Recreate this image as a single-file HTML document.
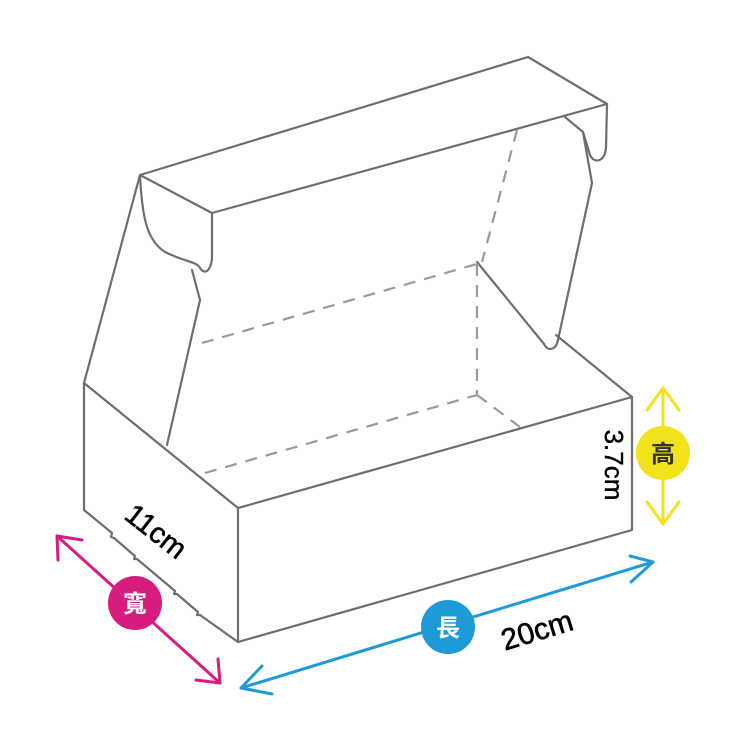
<!DOCTYPE html>
<html><head><meta charset="utf-8"><style>
html,body{margin:0;padding:0;background:#fff;}
svg{display:block;}
</style></head><body>
<svg width="744" height="744" viewBox="0 0 744 744" xmlns="http://www.w3.org/2000/svg">
<g fill="none" stroke="#6e6e6e" stroke-width="2.2" stroke-linejoin="round" stroke-linecap="round">
  <path d="M140,175 L528,57 L607,104 L212,213 Z"/>
  <path d="M140,175 C142,215 146,240 165,252 C185,262 198,262 200,268 C205,276 212,270 212,255 L212,213"/>
  <path d="M140,175 L84,383"/>
  <path d="M192,270 L200,300 L167,445"/>
  <path d="M607,104 L606,148 C605,162 594,164 590,155 L583,132 L565,117"/>
  <path d="M583,132 L592,183 L558,340 C556,350 548,352 544,344 L477,262"/>
  <path d="M556,335 L632,397"/>
  <path d="M238,642 L238,508 L84,383 L84,510"/>
  <path d="M238,508 L632,397 L632,530 L238,642"/>
  <path d="M84,510 L112,533 L111,537 L114,538 L135,556 L134,559 L137,559 L175,591 L174,594 L177,594 L198,612 L197,615 L200,615 L238,642"/>
</g>
<g fill="none" stroke="#9a9a9a" stroke-width="2.2" stroke-dasharray="12,9">
  <path d="M202,343 L477,264"/>
  <path d="M477,264 L477,395"/>
  <path d="M205,473 L477,395"/>
  <path d="M477,395 L520,427"/>
  <path d="M517,130 L482,262"/>
</g>
<g stroke="#d81b7f" stroke-width="3" fill="none" stroke-linecap="round" stroke-linejoin="round">
  <path d="M57,536 L220,683"/>
  <path d="M58,560 L57,536 L82,540"/>
  <path d="M196,680 L220,683 L218,659"/>
</g>
<circle cx="135" cy="603" r="27" fill="#d81b7f"/>
<text x="135" y="612" font-family="'Liberation Sans','Noto Sans CJK TC',sans-serif" font-size="24" font-weight="bold" fill="#fff" text-anchor="middle">寬</text>
<g stroke="#1e9ad6" stroke-width="3" fill="none" stroke-linecap="round" stroke-linejoin="round">
  <path d="M241,688 L653,562"/>
  <path d="M262,666 L241,688 L272,694"/>
  <path d="M630,556 L653,562 L631,582"/>
</g>
<circle cx="448" cy="627" r="27" fill="#1e9ad6"/>
<text x="448" y="636" font-family="'Liberation Sans','Noto Sans CJK TC',sans-serif" font-size="24" font-weight="bold" fill="#fff" text-anchor="middle">長</text>
<g stroke="#f2e21a" stroke-width="3" fill="none" stroke-linecap="round" stroke-linejoin="round">
  <path d="M663,388 L663,524"/>
  <path d="M647,410 L663,388 L679,410"/>
  <path d="M647,502 L663,524 L679,502"/>
</g>
<circle cx="663" cy="453" r="27" fill="#f2e21a"/>
<text x="663" y="462" font-family="'Liberation Sans','Noto Sans CJK TC',sans-serif" font-size="24" font-weight="bold" fill="#333" text-anchor="middle">高</text>
<text transform="translate(150,539) rotate(38)" font-family="'Liberation Sans',sans-serif" font-size="29" fill="#000" stroke="#000" stroke-width="0.6" text-anchor="middle">11cm</text>
<text transform="translate(540,640) rotate(-17)" font-family="'Liberation Sans',sans-serif" font-size="30" fill="#000" stroke="#000" stroke-width="0.6" text-anchor="middle">20cm</text>
<text transform="translate(605,465) rotate(90)" font-family="'Liberation Sans',sans-serif" font-size="26" fill="#000" stroke="#000" stroke-width="0.4" text-anchor="middle">3.7cm</text>
</svg>
</body></html>
